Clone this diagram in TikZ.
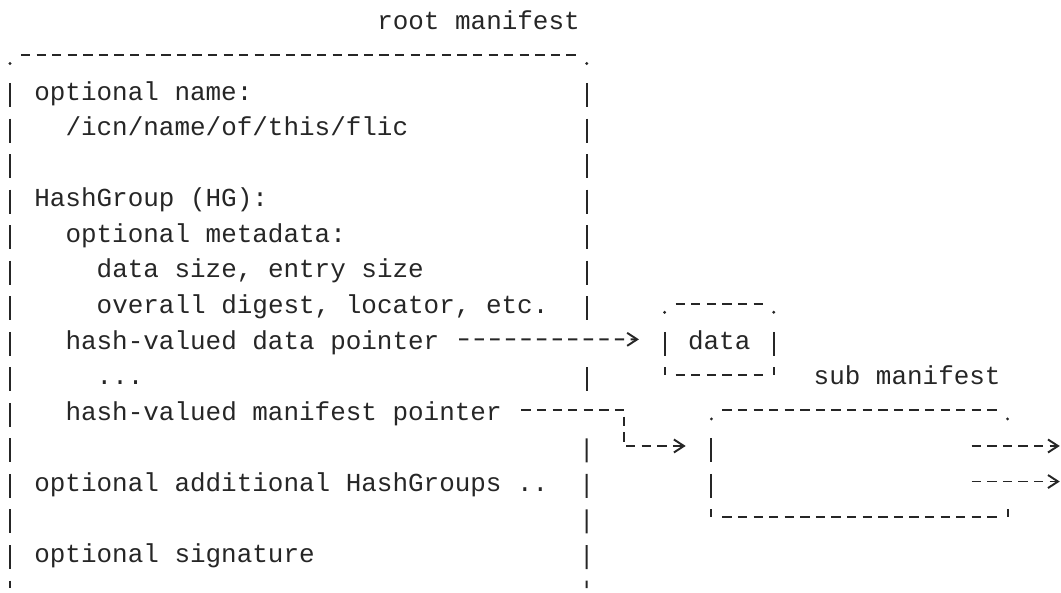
\documentclass[tikz,border=0pt]{standalone}
\usepackage{fontspec}
\setmonofont{Liberation Mono}
\usetikzlibrary{arrows.meta}
\definecolor{ink}{HTML}{262626}

\begin{document}
\begin{tikzpicture}[x=0.31172cm, y=-0.7108cm, line width=1.1pt, color=ink,
    txt/.style={font=\ttfamily\fontsize{14.77}{17}\selectfont, inner sep=0pt,
      text height=0.4866cm, text depth=0.1cm, anchor=base west},
    hline/.style={dash pattern=on 0.186cm off 0.1257cm, shorten <=0.2188cm, shorten >=0.2188cm},
    vbar/.style={dash pattern=on 0.48cm off 0.2308cm},
    vline/.style={vbar, shorten <=0.5594cm},
    ptr/.style={dash pattern=on 0.186cm off 0.1257cm, -{Straight Barb[length=0.2cm, width=0.26cm]}},
    box/.style={inner sep=0pt, outer sep=0pt}]
  \useasboundingbox (-0.6416,0) rectangle (67.43,16.657);

  % root manifest
  \node[txt] (rootlbl) at (23.5,0.82) {root manifest};
  \node[box, minimum width=11.5336cm, minimum height=10.662cm] (root) at (18.5,9.048) {};
  \draw[hline] (root.north west) -- (root.north east);
  \fill ([yshift=-0.17cm]root.north west) circle (0.9pt);
  \fill ([yshift=-0.17cm]root.north east) circle (0.9pt);
  \draw[vline] (root.north west) -- (root.south west);
  \draw[vline] (root.north east) -- ++(0,7.462);
  \draw[vbar] (37,10.335) -- (37,11.01);
  \draw[vbar] (37,12.335) -- (root.south east);

  \node[txt] (name) at (1.5,2.82) {optional name:};
  \node[txt] (icn) at (3.5,3.82) {/icn/name/of/this/flic};
  \node[txt] (hg) at (1.5,5.82) {HashGroup (HG):};
  \node[txt] (meta) at (3.5,6.82) {optional metadata:};
  \node[txt] (sizes) at (5.5,7.82) {data size, entry size};
  \node[txt] (digest) at (5.5,8.82) {overall digest, locator, etc.};
  \node[txt] (dptr) at (3.5,9.82) {hash-valued data pointer};
  \node[txt] (dots) at (5.5,10.82) {...};
  \node[txt] (mptr) at (3.5,11.82) {hash-valued manifest pointer};
  \node[txt] (morehg) at (1.5,13.82) {optional additional HashGroups ..};
  \node[txt] (sig) at (1.5,15.82) {optional signature};

  % data
  \node[box, txt, anchor=center, minimum width=2.182cm, minimum height=1.4216cm] (databox) at (45.5,9.548) {data};
  \draw[hline] (databox.north west) -- (databox.north east);
  \draw[hline] (databox.south west) -- (databox.south east);
  \draw[vline] (databox.north west) -- (databox.south west);
  \draw[vline] (databox.north east) -- (databox.south east);
  \fill ([yshift=-0.17cm]databox.north west) circle (0.9pt);
  \fill ([yshift=-0.17cm]databox.north east) circle (0.9pt);

  % sub manifest
  \node[txt] (sublbl) at (51.5,10.82) {sub manifest};
  \node[box, minimum width=5.9227cm, minimum height=2.1324cm] (sub) at (54.5,13.048) {};
  \draw[hline] (sub.north west) -- (sub.north east);
  \draw[hline] (sub.south west) -- (sub.south east);
  \draw[vline] (sub.north west) -- (sub.south west);
  \draw ([yshift=0.152cm]sub.south east) -- (sub.south east);
  \fill ([yshift=-0.17cm]sub.north west) circle (0.9pt);
  \fill ([yshift=-0.17cm]sub.north east) circle (0.9pt);

  % pointers
  \draw[ptr, shorten <=0.3747cm, shorten >=0.5143cm] (dptr) -- (databox);
  \draw[ptr, shorten >=0.5143cm] ([xshift=0.3747cm]mptr.east) -- ++(6.598,0)
    |- ([yshift=-0.7108cm]sub.north west);

  \coordinate (subout1) at (61.702,12.548);
  \coordinate (subtip1) at (67.35,12.548);
  \coordinate (subout2) at (61.702,13.548);
  \coordinate (subtip2) at (67.35,13.548);
  \draw[ptr] (subout1) -- (subtip1);
  \draw[ptr] (subout2) -- (subtip2);
\end{tikzpicture}
\end{document}
